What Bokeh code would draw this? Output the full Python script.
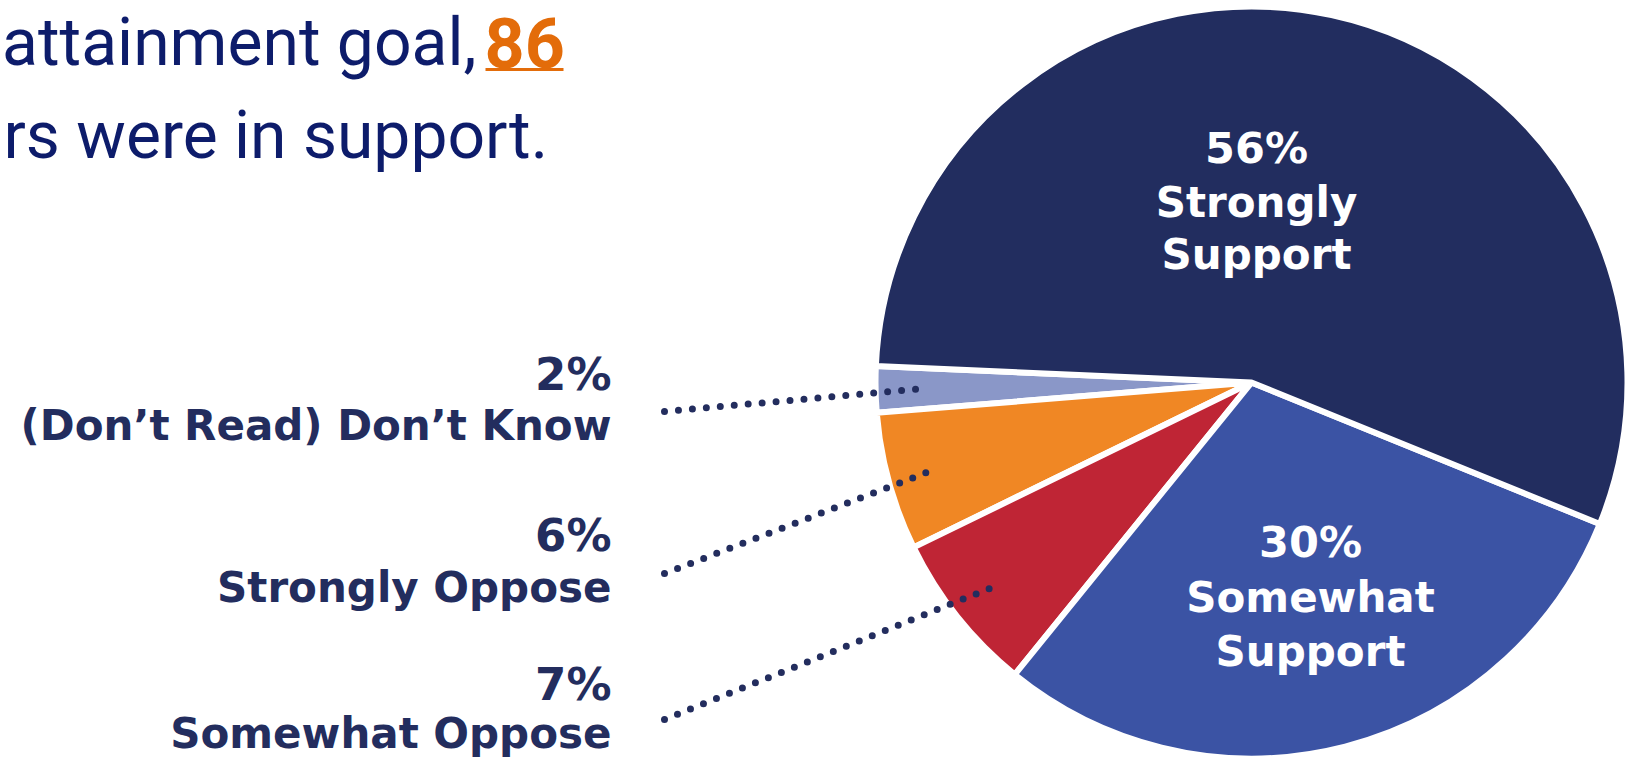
import numpy as np
from bokeh.plotting import figure
from bokeh.models import Range1d, ColumnDataSource
from bokeh.core.properties import value
from bokeh.embed import file_html
from bokeh.resources import INLINE

# ---------------- data ----------------
categories = ["(Don\u2019t Read) Don\u2019t Know", "Strongly Oppose", "Somewhat Oppose",
              "Somewhat Support", "Strongly Support"]
values = [2, 6, 7, 30, 56]
pct_labels = ["2%", "6%", "7%", "30%", "56%"]
colors = ["#8a97c8", "#f08724", "#bf2535", "#3b53a4", "#222d5f"]
inside_lines = {3: ["Somewhat", "Support"], 4: ["Strongly", "Support"]}
headline_1 = "attainment goal,"
headline_num = "86"
headline_2 = "rs were in support."

# ---------------- layout ----------------
W, H = 1629, 758


def sy(y):
    return H - y


p = figure(width=W, height=H, x_range=Range1d(0, W), y_range=Range1d(0, H),
           output_backend="svg", toolbar_location=None, min_border=0)
p.axis.visible = False
p.grid.visible = False
p.outline_line_color = None
p.background_fill_color = "white"
p.border_fill_color = "white"

cx, cy, R = 1251, sy(382), 376
start_deg = 177.5
vals = np.array(values, dtype=float)
frac = vals / vals.sum()
cum = np.concatenate([[0], np.cumsum(frac)])
starts = np.deg2rad(start_deg + 360 * cum[:-1])
ends = np.deg2rad(start_deg + 360 * cum[1:])
mids = (starts + ends) / 2

src = ColumnDataSource(dict(x=[cx] * len(values), y=[cy] * len(values),
                            start=starts, end=ends, color=colors))
p.wedge(x="x", y="y", radius=R, start_angle="start", end_angle="end",
        fill_color="color", line_color="white", line_width=6, source=src)

label_color = "#232d5e"
font_b = value("DejaVu Sans")

# inside labels
inside_pos = {4: (1256, [147, 202, 254]), 3: (1310, [541, 597, 651])}
for i, (xc, ys) in inside_pos.items():
    p.text(x=[xc], y=[sy(ys[0])], text=[pct_labels[i]], text_font=font_b,
           text_font_style="bold", text_font_size="43px", text_color="white",
           text_align="center", text_baseline="alphabetic")
    p.text(x=[xc, xc], y=[sy(ys[1]), sy(ys[2])], text=inside_lines[i], text_font=font_b,
           text_font_style="bold", text_font_size="42px", text_color="white",
           text_align="center", text_baseline="alphabetic")

# outside labels with dotted leaders
out_idx = [0, 1, 2]
pct_base = [374, 535, 684]
lab_base = [425, 587, 733]
label_right = 611
for k, i in enumerate(out_idx):
    p.text(x=[label_right], y=[sy(pct_base[k])], text=[pct_labels[i]], text_font=font_b,
           text_font_style="bold", text_font_size="45px", text_color=label_color,
           text_align="right", text_baseline="alphabetic")
    p.text(x=[label_right], y=[sy(lab_base[k])], text=[categories[i]], text_font=font_b,
           text_font_style="bold", text_font_size="42px", text_color=label_color,
           text_align="right", text_baseline="alphabetic")
    x0, y0 = 664, sy(lab_base[k] - 14)
    x1 = cx + 0.87 * R * np.cos(mids[i])
    y1 = cy + 0.87 * R * np.sin(mids[i])
    p.line(x=[x0, x1], y=[y0, y1], line_color=label_color, line_width=7,
           line_dash="0 14", line_cap="round")

# headline text (cropped slide text)
head_color = "#0d1c6b"
font_h = value("Roboto")
p.text(x=[476], y=[sy(42)], text=[headline_1], text_font=font_h, text_font_size="66px",
       text_color=head_color, text_align="right", text_baseline="alphabetic")
p.text(x=[484], y=[sy(42)], text=[headline_num], text_font=font_h, text_font_style="bold",
       text_font_size="70px", text_color="#e36c0a", text_align="left",
       text_baseline="alphabetic")
p.line(x=[485, 563], y=[sy(69), sy(69)], line_color="#e36c0a", line_width=3)
p.text(x=[3], y=[sy(135)], text=[headline_2], text_font=font_h, text_font_size="66px",
       text_color=head_color, text_align="left", text_baseline="alphabetic")

open("out.html", "w").write(file_html(p, INLINE))
